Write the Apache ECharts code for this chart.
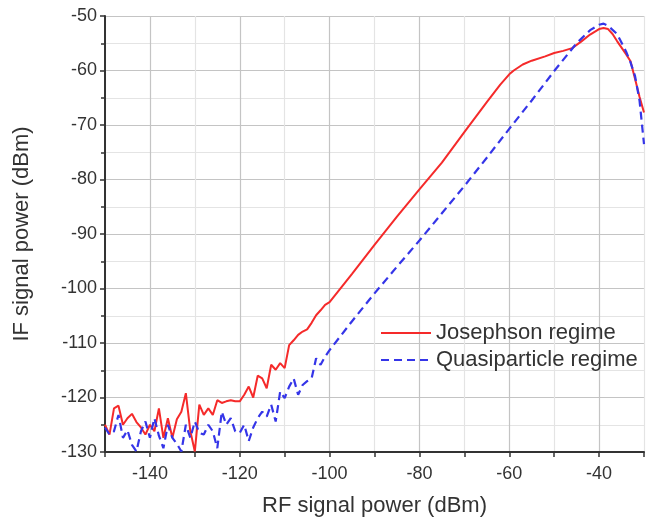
<!DOCTYPE html>
<html>
<head>
<meta charset="utf-8">
<script src="https://cdn.jsdelivr.net/npm/echarts@6/dist/echarts.min.js"></script>
<style>
  html, body { margin: 0; padding: 0; background: #fff; }
  #chart { width: 647px; height: 522px; }
</style>
</head>
<body>
<div id="chart"></div>
<script>
// noisy low-power region, 1 dBm steps
var rfLow = [];
for (var i = -150; i <= -100; i++) rfLow.push(i);

var josLow = [-125, -126.8, -122, -121.5, -125, -123.8, -123, -124.5, -125.5, -126.8,
  -125, -126.2, -122, -127.4, -123.8, -127.4, -124, -122.6, -119.2, -126.2,
  -129.9, -121.3, -123.2, -122, -123.2, -120.5, -121, -120.7, -120.5, -120.7,
  -120.7, -119.5, -118, -120, -116, -116.5, -118.3, -114, -114.9, -113.7,
  -114.6, -110.4, -109.5, -108.5, -107.9, -107.5, -106.3, -104.9, -104, -103,
  -102.5];

var quasiLow = [-125.5, -126.8, -126.2, -123.2, -127.4, -126, -128.7, -129.9, -126.2, -124.4,
  -127.4, -123.8, -127, -129.3, -125, -127.4, -128.5, -129.9, -125, -127.4,
  -124.4, -126.5, -126.8, -125, -126.2, -129.3, -122.6, -125, -123.8, -126.2,
  -126.5, -125, -128, -125.5, -123.8, -122.6, -123.5, -121.3, -124.4, -118.9,
  -120.1, -118, -116.5, -119.5, -117.7, -117, -116.5, -112.8, -114, -112.5,
  -111.3];

// higher power region
var rfJosHigh = [-95, -90, -85, -80, -75, -70, -65, -62, -60, -59, -57, -55, -52, -50, -48, -46,
  -44, -42, -40, -39, -38, -37, -36, -35, -34, -33, -32, -31, -30];
var josHigh = [-97.3, -92, -86.8, -81.8, -76.9, -71.3, -65.8, -62.6, -60.7, -60, -58.9, -58.2,
  -57.4, -56.8, -56.4, -55.9, -54.7, -53.4, -52.4, -52.2, -52.4, -53.3, -54.6, -55.8, -57,
  -58.3, -61.5, -64.8, -67.7];

var rfQuasiHigh = [-95, -90, -85, -80, -75, -70, -65, -60, -55, -50, -45, -42, -40, -39, -38,
  -36, -34, -33, -32, -31, -30];
var quasiHigh = [-106, -100.9, -96, -91.2, -86.2, -81.2, -76, -70.7, -65.5, -60.1, -55, -52.6,
  -51.6, -51.4, -51.8, -53.3, -56.5, -58.5, -61, -65.5, -73.5];

function pairs(xs, ys) {
  var out = [];
  for (var k = 0; k < xs.length; k++) out.push([xs[k], ys[k]]);
  return out;
}

var font = 'Liberation Sans, Arial, sans-serif';

var option = {
  animation: false,
  backgroundColor: '#fff',
  textStyle: { fontFamily: font },
  grid: { left: 105, right: 1, top: 16, bottom: 65 },
  legend: {
    orient: 'vertical',
    left: 375,
    top: 317,
    itemWidth: 50,
    itemHeight: 14,
    itemGap: 5,
    itemStyle: { opacity: 0 },
    textStyle: { fontSize: 22, color: '#333', fontFamily: font },
    data: ['Josephson regime', 'Quasiparticle regime']
  },
  xAxis: {
    type: 'value',
    min: -150,
    max: -30,
    interval: 10,
    name: 'RF signal power (dBm)',
    nameLocation: 'middle',
    nameGap: 43,
    nameTextStyle: { fontSize: 22, color: '#333' },
    axisLine: { show: true, onZero: false, lineStyle: { color: '#333', width: 2 } },
    axisTick: { show: true, length: 5, lineStyle: { color: '#333', width: 1.5 } },
    axisLabel: {
      fontSize: 18, color: '#333', margin: 13,
      formatter: function (v) { return (Math.round(v / 10) % 2 === 0) ? String(v) : ''; }
    },
    splitLine: { show: true, lineStyle: { color: ['#e4e4e4', '#c4c4c4'], width: 1.2 } }
  },
  yAxis: {
    type: 'value',
    min: -130,
    max: -50,
    interval: 10,
    name: 'IF signal power (dBm)',
    nameLocation: 'middle',
    nameGap: 72,
    nameTextStyle: { fontSize: 22, color: '#333' },
    axisLine: { show: true, onZero: false, lineStyle: { color: '#333', width: 2 } },
    axisTick: { show: true, length: 5, lineStyle: { color: '#333', width: 1.5 } },
    minorTick: { show: true, splitNumber: 2, length: 4, lineStyle: { color: '#333', width: 1.5 } },
    axisLabel: { fontSize: 18, color: '#333', margin: 8 },
    splitLine: { show: true, lineStyle: { color: '#c4c4c4', width: 1.2 } },
    minorSplitLine: { show: true, lineStyle: { color: '#e4e4e4', width: 1.2 } }
  },
  series: [
    {
      name: 'Josephson regime',
      type: 'line',
      symbol: 'none',
      color: '#f52a2a',
      lineStyle: { color: '#f52a2a', width: 2 },
      data: pairs(rfLow, josLow).concat(pairs(rfJosHigh, josHigh))
    },
    {
      name: 'Quasiparticle regime',
      type: 'line',
      symbol: 'none',
      color: '#3535e8',
      lineStyle: { color: '#3535e8', width: 2.2, type: [8, 5] },
      data: pairs(rfLow, quasiLow).concat(pairs(rfQuasiHigh, quasiHigh))
    }
  ]
};

var myChart = echarts.init(document.getElementById('chart'));
myChart.setOption(option);
</script>
</body>
</html>
